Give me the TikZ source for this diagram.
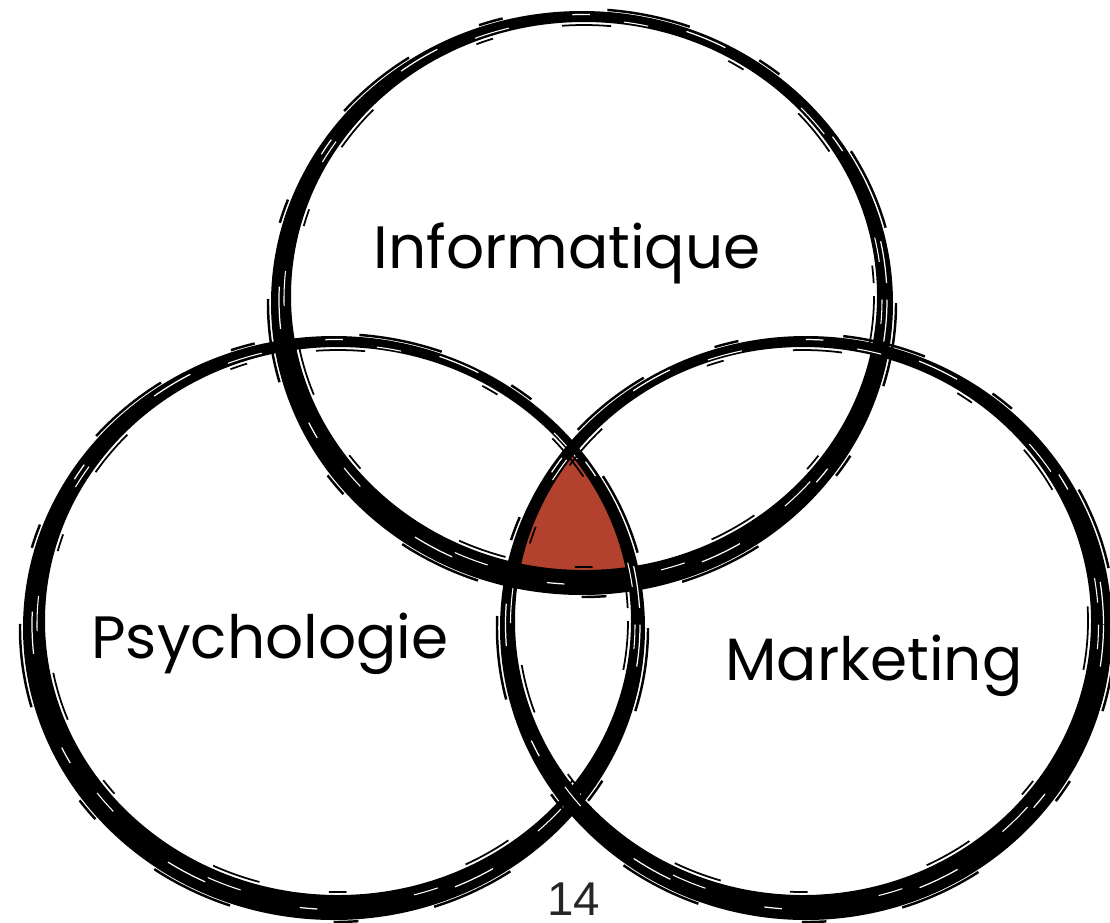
\documentclass[tikz,border=0pt]{standalone}
\usepackage{fontspec}
\setmainfont{Poppins}
\newfontfamily\pagefont{Liberation Sans}
\definecolor{vnred}{RGB}{178,66,45}

% brush ring: centre (#1,#2), radii #3 and #4, inner edge shifted by (#5,#6)
\newcommand{\brushring}[6]{%
  \fill[even odd rule] (#1,#2) ellipse [x radius=#3+9, y radius=#4+9]
    ({#1+(#5)},{#2+(#6)}) ellipse [x radius=#3-9, y radius=#4-9];
  \draw[line width=0.7pt, dash pattern=on 24pt off 22pt on 7pt off 30pt]
    (#1,#2) ellipse [x radius=#3+12, y radius=#4+11];
  \draw[line width=0.5pt, dash pattern=on 14pt off 35pt on 5pt off 20pt]
    ({#1+(#5)},{#2+(#6)}) ellipse [x radius=#3-12, y radius=#4-12];
  \draw[white, line width=0.35pt, dash pattern=on 12pt off 40pt on 5pt off 28pt]
    ({#1+(#5)/2},{#2+(#6)/2}) ellipse [x radius=#3+2, y radius=#4+2];
  \draw[white, line width=0.3pt, dash pattern=on 7pt off 50pt on 10pt off 33pt]
    ({#1+(#5)/2},{#2+(#6)/2}) ellipse [x radius=#3-3, y radius=#4-3];
}

\begin{document}
\begin{tikzpicture}[x=0.1mm, y=-0.1mm, venntext/.style={font=\fontsize{17}{19}\selectfont, anchor=base}]
  \useasboundingbox (0,0) rectangle (1110,922);
  \begin{scope}
    \clip (334,628) ellipse [x radius=302, y radius=283];
    \clip (806,628) ellipse [x radius=297, y radius=283];
    \fill[vnred] (582,303) ellipse [x radius=302, y radius=283];
  \end{scope}
  \brushring{582}{303}{302}{283}{2}{-7}
  \brushring{334}{628}{302}{283}{4}{-7}
  \brushring{806}{628}{297}{283}{-3}{-7}
  \node[venntext] (info) at (567,268) {Informatique};
  \node[venntext] (psy) at (270,658) {Psychologie};
  \node[venntext] (mkt) at (874,680) {Marketing};
  \node[anchor=base, font=\pagefont\fontsize{13.5}{15}\selectfont, text=black!85] (page) at (574,915) {14};
\end{tikzpicture}
\end{document}
